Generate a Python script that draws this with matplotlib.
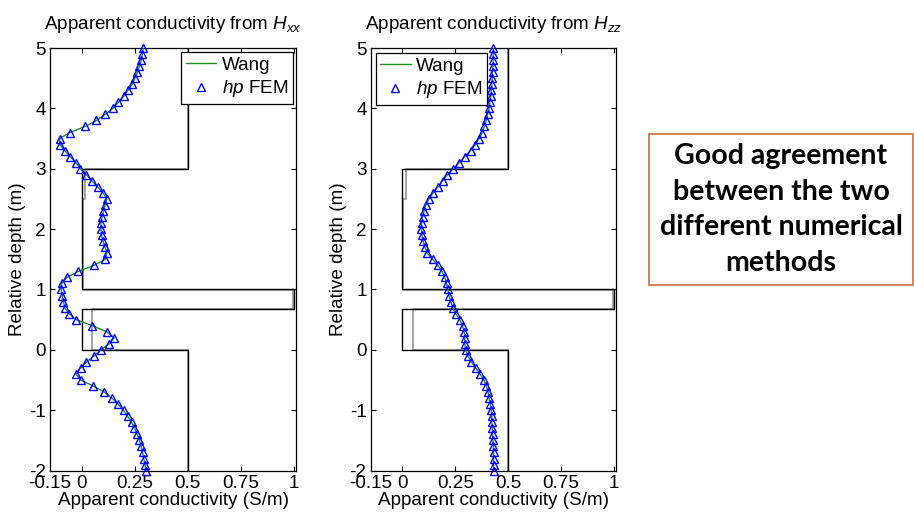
import numpy as np
import matplotlib
matplotlib.use("Agg")
import matplotlib.pyplot as plt
from matplotlib.patches import Rectangle
from matplotlib.lines import Line2D

plt.rcParams['font.family'] = ['Liberation Sans', 'DejaVu Sans']
plt.rcParams['mathtext.fontset'] = 'custom'
plt.rcParams['mathtext.rm'] = 'Liberation Sans'
plt.rcParams['mathtext.it'] = 'Liberation Sans:italic'
plt.rcParams['axes.unicode_minus'] = False

# Sampling depths of the logging positions (m), top to bottom
depth = np.round(np.arange(5.0, -2.05, -0.1), 1)

# Apparent conductivity (S/m) from the Hxx coupling
sigma_xx = [0.290, 0.285, 0.280, 0.272, 0.262, 0.251, 0.238, 0.218, 0.197, 0.173,
            0.147, 0.110, 0.069, 0.016, -0.057, -0.104, -0.103, -0.080, -0.055, -0.028,
            -0.007, 0.022, 0.047, 0.074, 0.100, 0.118, 0.110, 0.102, 0.095, 0.090,
            0.090, 0.093, 0.100, 0.110, 0.118, 0.110, 0.058, -0.016, -0.071, -0.095,
            -0.097, -0.092, -0.087, -0.081, -0.060, -0.026, 0.050, 0.117, 0.153, 0.129,
            0.090, 0.058, 0.022, -0.005, -0.028, -0.005, 0.055, 0.106, 0.142, 0.172,
            0.197, 0.216, 0.235, 0.248, 0.261, 0.272, 0.280, 0.287, 0.292, 0.298,
            0.302]

# Apparent conductivity (S/m) from the Hzz coupling
sigma_zz = [0.429, 0.429, 0.429, 0.428, 0.426, 0.425, 0.423, 0.420, 0.417, 0.414,
            0.409, 0.403, 0.396, 0.388, 0.378, 0.363, 0.345, 0.322, 0.295, 0.268,
            0.240, 0.213, 0.190, 0.168, 0.145, 0.126, 0.111, 0.102, 0.096, 0.091,
            0.090, 0.092, 0.098, 0.107, 0.118, 0.143, 0.167, 0.187, 0.201, 0.209,
            0.215, 0.220, 0.228, 0.238, 0.252, 0.271, 0.285, 0.292, 0.295, 0.295,
            0.299, 0.309, 0.326, 0.347, 0.367, 0.385, 0.397, 0.405, 0.410, 0.416,
            0.420, 0.422, 0.423, 0.425, 0.426, 0.428, 0.430, 0.431, 0.431, 0.431,
            0.432]

# Layered formation model: boundaries (m) and layer conductivities (S/m)
model_bounds = [5.0, 3.0, 1.0, 0.67, 0.0, -2.0]
model_sigma = [0.5, 0.0, 1.0, 0.0, 0.5]
# Invaded-zone profile
invaded_bounds = [5.0, 3.0, 2.5, 0.985, 0.67, 0.0, -2.0]
invaded_sigma = [0.5, 0.016, 0.004, 0.995, 0.048, 0.5]

x_ticks = [-0.15, 0, 0.25, 0.5, 0.75, 1]
x_ticklabels = ['-0.15', '0', '0.25', '0.5', '0.75', '1']
y_ticks = [-2, -1, 0, 1, 2, 3, 4, 5]

titles = [r'Apparent conductivity from $H_{xx}$', r'Apparent conductivity from $H_{zz}$']
legend_labels = ['Wang', r'$\mathit{hp}$ FEM']
note_text = "Good agreement\nbetween the two\ndifferent numerical\nmethods"


def step_profile(bounds, vals):
    ys = np.repeat(bounds, 2)[1:-1]
    xs = np.repeat(vals, 2)
    return xs, ys


W, H = 914, 517
fig = plt.figure(figsize=(W / 100, H / 100), dpi=100)

fs = 13.6
panels = [
    (sigma_xx, [50 / W, 1 - 470.6 / H, 246 / W, 422.6 / H], 'upper right', (0.989, 0.991)),
    (sigma_zz, [370.7 / W, 1 - 470.6 / H, 245.3 / W, 422.6 / H], 'upper left', (0.02, 0.989)),
]

for i, (sig, rect, lloc, lanchor) in enumerate(panels):
    ax = fig.add_axes(rect)
    gx, gy = step_profile(invaded_bounds, invaded_sigma)
    ax.plot(gx, gy, color='#8c8c8c', lw=1.1, zorder=2)
    bx, by = step_profile(model_bounds, model_sigma)
    ax.plot(bx, by, color='black', lw=1.0, zorder=3)
    ax.plot(sig, depth, color='#1f8f1f', lw=1.0, zorder=4)
    ax.plot(sig, depth, ls='none', marker='^', ms=5.8, mfc='none', mec='#0000ff',
            mew=1.0, zorder=5, clip_on=False)

    ax.set_xlim(-0.15, 1.01)
    ax.set_ylim(-2, 5)
    ax.set_xticks(x_ticks)
    ax.set_xticklabels(x_ticklabels)
    ax.set_yticks(y_ticks)
    ax.tick_params(direction='in', top=True, right=True, length=3.5, width=0.8,
                   labelsize=fs, pad=3)
    for s in ax.spines.values():
        s.set_linewidth(0.9)
    ax.set_title(titles[i], fontsize=fs, pad=14)
    ax.set_xlabel('Apparent conductivity (S/m)', fontsize=fs, labelpad=0)
    ax.set_ylabel('Relative depth (m)', fontsize=fs, labelpad=2)

    handles = [
        Line2D([], [], color='#1f8f1f', lw=1.0),
        Line2D([], [], ls='none', marker='^', ms=5.8, mfc='none', mec='#0000ff', mew=1.0),
    ]
    leg = ax.legend(handles, legend_labels, loc=lloc, bbox_to_anchor=lanchor,
                    borderaxespad=0, fontsize=fs, fancybox=False, framealpha=1,
                    edgecolor='black', handlelength=1.6, handletextpad=0.3,
                    borderpad=0.25, labelspacing=0.25)
    leg.get_frame().set_linewidth(0.9)
    leg.set_zorder(10)

# Annotation box on the right
fig.add_artist(Rectangle((649 / W, 1 - 285 / H), 264 / W, 151 / H,
                         transform=fig.transFigure, facecolor='white',
                         edgecolor='#c8703c', lw=1.2))
fig.text(781 / W, 1 - 209.5 / H, note_text, ha='center', va='center',
         fontsize=20.5, fontweight='bold', family=['Lato', 'DejaVu Sans'],
         linespacing=1.45)

fig.savefig('out.png', dpi=100)
